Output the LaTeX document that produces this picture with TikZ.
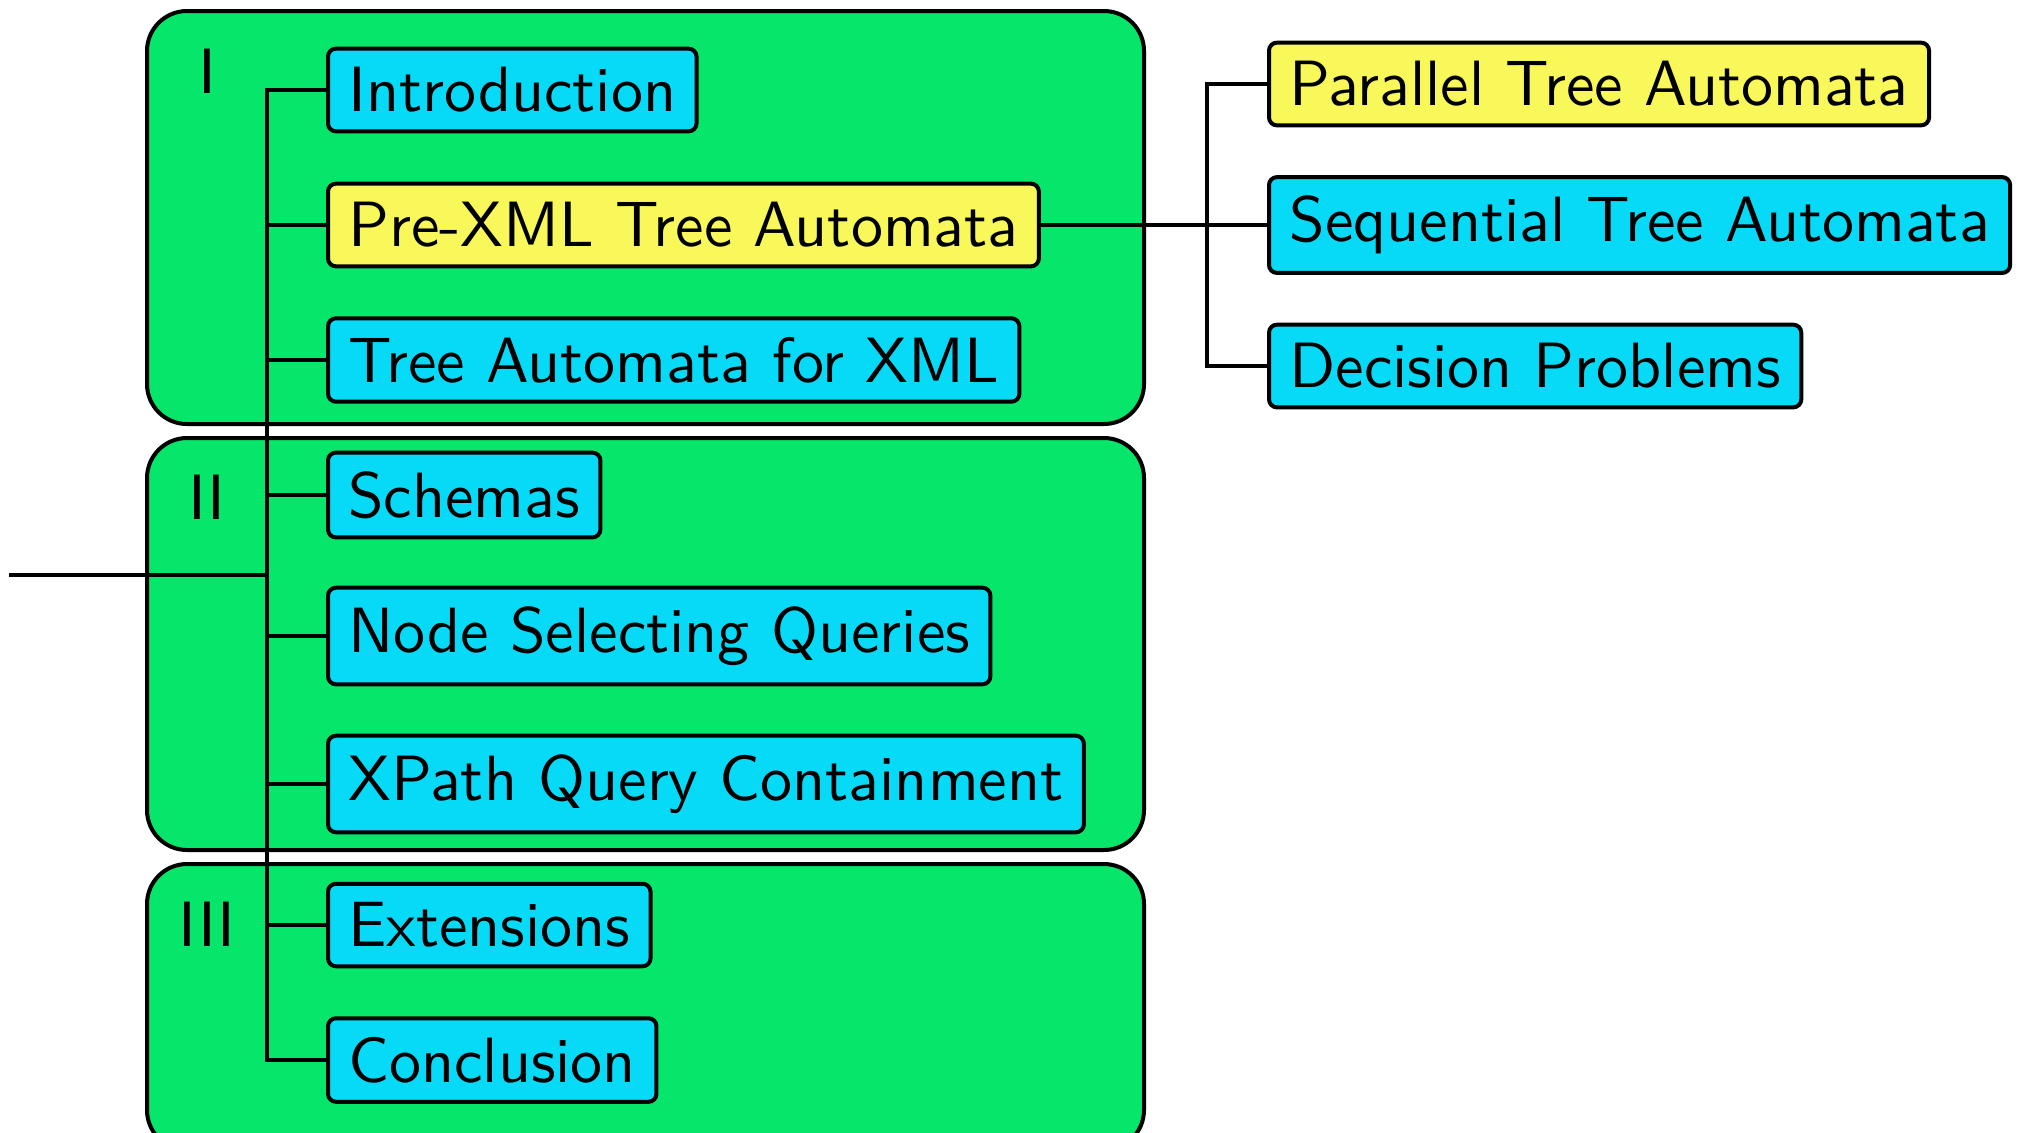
\documentclass[tikz,border=0pt]{standalone}
\usepackage{graphicx}
\usetikzlibrary{calc}
\definecolor{partfill}{RGB}{5,230,106}
\definecolor{chapfill}{RGB}{6,218,246}
\definecolor{markfill}{RGB}{248,248,90}
% large sans text: the 10pt design size, magnified
\newcommand\bigsf[1]{\scalebox{3.2}{\fontsize{10}{12}\selectfont\sffamily #1}}
\tikzset{
  partbox/.style={draw=black, line width=2pt, fill=partfill, rounded corners=20pt},
  partlabel/.style={anchor=base, inner sep=0pt},
  chapter/.style={draw=black, line width=2pt, fill=chapfill, rounded corners=4pt,
    anchor=west, inner xsep=10.2pt, inner ysep=9.4pt},
  marked/.style={chapter, fill=markfill},
  link/.style={draw=black, line width=2.2pt},
}
\begin{document}
\begin{tikzpicture}[x=0.5pt, y=-0.5pt]
\useasboundingbox (0,0) rectangle (2018,1132);

% the three parts
\begin{scope}
\clip (0,0) rectangle (2018,1132);
\draw[partbox] (147,11) rectangle (1144,424);
\draw[partbox] (147,438) rectangle (1144,850);
\draw[partbox] (147,864) rectangle (1144,1150);
\end{scope}
\node[partlabel] (pI) at (207,93) {\bigsf{I}};
\node[partlabel] (pII) at (207,519) {\bigsf{II}};
\node[partlabel] (pIII) at (207,946) {\bigsf{III}};

% chapters
\node[chapter] (intro)  at (326,90)   {\bigsf{Introduction}};
\node[marked]  (prexml) at (326,225)  {\bigsf{Pre-XML Tree Automata}};
\node[chapter] (taxml)  at (326,360)  {\bigsf{Tree Automata for XML}};
\node[chapter] (schem)  at (326,495)  {\bigsf{Schemas}};
\node[chapter] (nsq)    at (326,636)  {\bigsf{Node Selecting Queries}};
\node[chapter] (xpath)  at (326,784)  {\bigsf{XPath Query Containment}};
\node[chapter] (ext)    at (326,925)  {\bigsf{Extensions}};
\node[chapter] (concl)  at (326,1060) {\bigsf{Conclusion}};

% sections of the pre-XML chapter
\node[marked]  (par) at (1267,84)  {\bigsf{Parallel Tree Automata}};
\node[chapter] (seq) at (1267,225) {\bigsf{Sequential Tree Automata}};
\node[chapter] (dec) at (1267,366) {\bigsf{Decision Problems}};

% tree edges
\coordinate (root) at (9,575);
\coordinate (trunk) at (267,575);
\draw[link] (root) -- (trunk);
\foreach \c in {intro,prexml,taxml,schem,nsq,xpath,ext,concl}
  \draw[link] (trunk) |- (\c.west);

\coordinate (rfork) at (1207,225);
\draw[link] (prexml.east) -- (seq.west);
\draw[link] (rfork) |- (par.west);
\draw[link] (rfork) |- (dec.west);
\end{tikzpicture}
\end{document}
